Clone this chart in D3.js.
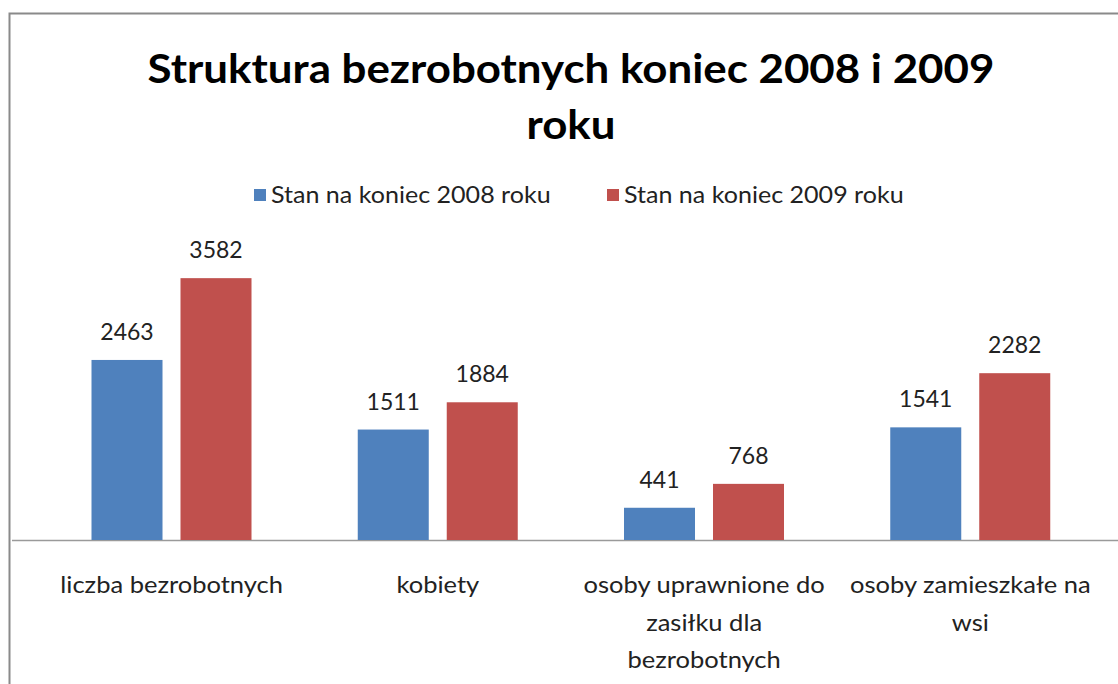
<!DOCTYPE html>
<html><head><meta charset="utf-8">
<script src="https://cdn.jsdelivr.net/npm/d3@7"></script>
<style>
html,body{margin:0;padding:0;background:#fff;}
svg{display:block;font-family:Lato,"Open Sans",sans-serif;}
</style></head>
<body><svg id="c" width="1118" height="684"></svg>
<script>
const categories = [["liczba bezrobotnych"], ["kobiety"], ["osoby uprawnione do","zasiłku dla","bezrobotnych"], ["osoby zamieszkałe na","wsi"]];
const categoryKeys = ["liczba bezrobotnych","kobiety","osoby uprawnione do zasiłku dla bezrobotnych","osoby zamieszkałe na wsi"];
const seriesNames = ["Stan na koniec 2008 roku","Stan na koniec 2009 roku"];
const values2008 = [2463, 1511, 441, 1541];
const values2009 = [3582, 1884, 768, 2282];
const colors = ["#4F81BD","#C0504D"];

const svg = d3.select("#c");
svg.append("rect").attr("x",9.5).attr("y",13.5).attr("width",1130).attr("height",700)
  .attr("fill","#fff").attr("stroke","#8a8a8a").attr("stroke-width",2);

function stext(parent, x, y, str, anchor, size, sx, weight, fill){
  const g = parent.append("g").attr("transform",`translate(${x},${y}) scale(${sx},1)`);
  return g.append("text").attr("x",0).attr("y",0).attr("text-anchor",anchor)
    .attr("font-size",size).attr("font-weight",weight||"normal").attr("fill",fill||"#222").text(str);
}

const baseY = 540;
const x0 = d3.scaleBand().domain(categoryKeys).range([38.5,1103.5]).paddingInner(0).paddingOuter(0);
const x1 = d3.scaleBand().domain([0,1]).range([53,213]).paddingInner(0.2022).paddingOuter(0);
const y = d3.scaleLinear().domain([0,4000]).range([baseY, baseY-4000*0.0731]);

svg.append("line").attr("x1",12).attr("x2",1118).attr("y1",baseY+0.5).attr("y2",baseY+0.5)
  .attr("stroke","#9a9a9a").attr("stroke-width",1.5);

const series = [values2008, values2009];
const g = svg.append("g");
series.forEach((vals,si)=>{
  g.selectAll(".b"+si).data(vals).enter().append("rect")
    .attr("x",(d,i)=>x0(categoryKeys[i])+x1(si))
    .attr("width",x1.bandwidth())
    .attr("y",d=>y(d)).attr("height",d=>baseY-y(d))
    .attr("fill",colors[si]);
  vals.forEach((d,i)=>{
    stext(g, x0(categoryKeys[i])+x1(si)+x1.bandwidth()/2, y(d)-20, d, "middle", 23, 1);
  });
});

categories.forEach((lines,i)=>{
  const cx = x0(categoryKeys[i])+x0.bandwidth()/2;
  lines.forEach((ln,j)=>stext(svg, cx, 593 + j*37.5, ln, "middle", 23, 1.11));
});

stext(svg, 571, 83, "Struktura bezrobotnych koniec 2008 i 2009", "middle", 41, 1.07, "bold", "#000");
stext(svg, 571, 139, "roku", "middle", 41, 1.07, "bold", "#000");

const legX = [254, 607];
seriesNames.forEach((n,i)=>{
  svg.append("rect").attr("x",legX[i]).attr("y",189).attr("width",12).attr("height",12).attr("fill",colors[i]);
  stext(svg, legX[i]+17, 203, n, "start", 23, 1.09);
});
</script></body></html>
